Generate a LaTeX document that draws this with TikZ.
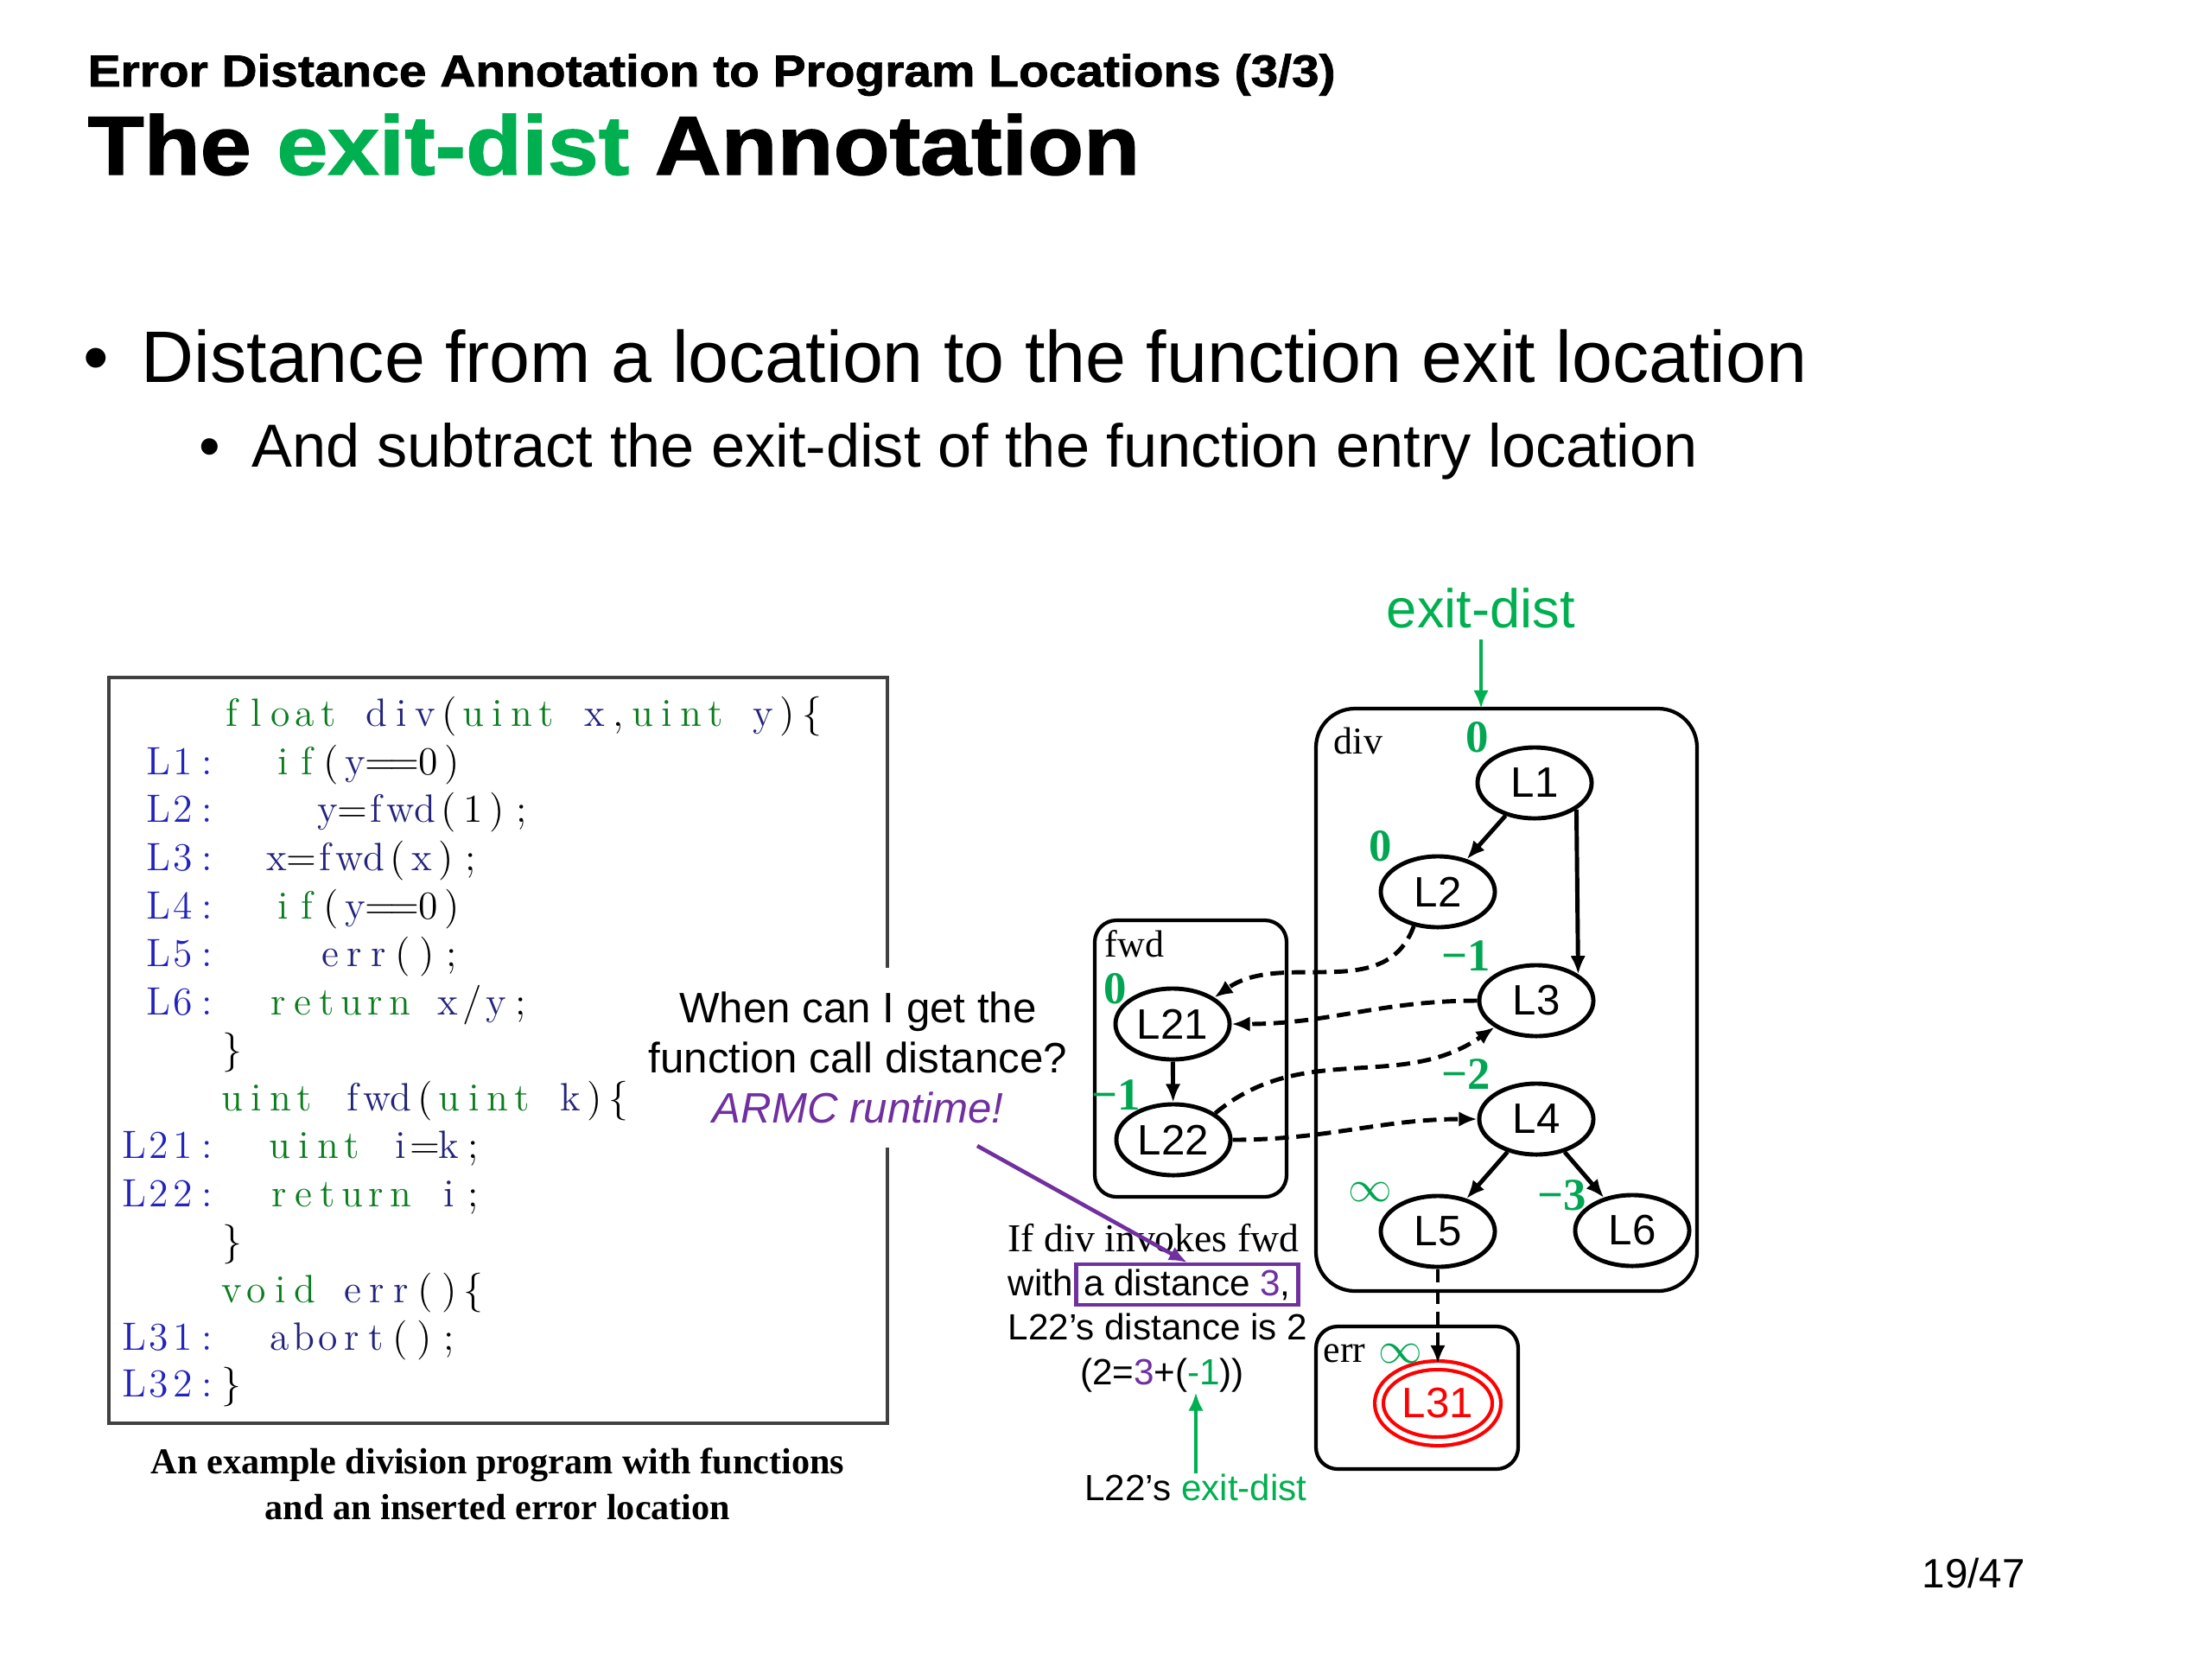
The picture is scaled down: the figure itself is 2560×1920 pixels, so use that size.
\documentclass[tikz,border=0pt]{standalone}
\usepackage{fontspec}
\usepackage{xcolor}
\usetikzlibrary{shapes.geometric, arrows.meta}
\newfontfamily\arialfont{Liberation Sans}
\newfontfamily\serifrm{Liberation Serif}
\newfontfamily\heavyfont{Liberation Sans}[BoldFeatures={FakeBold=1.5,FakeStretch=1.1}]

\definecolor{exitgreen}{RGB}{0,176,80}
\definecolor{numgreen}{RGB}{0,166,81}
\definecolor{armcpurple}{RGB}{112,48,160}
\definecolor{kwgreen}{RGB}{10,125,30}
\definecolor{idblue}{RGB}{35,35,125}
\definecolor{lblblue}{RGB}{35,35,190}

% fixed-column code letters
\newlength\cw \setlength\cw{7.95pt}
\def\endspread{}
\def\spread#1{\spreadi#1\endspread}
\def\spreadi#1{\ifx#1\endspread\else\ifcat\noexpand#1\relax#1\else\makebox[\cw]{#1}\fi\expandafter\spreadi\fi}
\newcommand\ck{\color{kwgreen}}
\newcommand\ci{\color{idblue}}
\newcommand\cp{\color{black}}
\newcommand\cl{\color{lblblue}}
\newcommand\csp{\makebox[\cw]{}}
\newcommand\lb{\makebox[\cw]{\{}}
\newcommand\rb{\makebox[\cw]{\}}}

\tikzset{>={Latex[length=6pt,width=5pt]},
    loc/.style={ellipse, draw, line width=1.4pt, minimum width=1.32cm, minimum height=0.82cm,
        inner sep=0pt, font=\arialfont\fontsize{14}{14}\selectfont},
    errloc/.style={loc, draw=red, text=red, double=white, double distance=1.6pt, line width=1.2pt,
        minimum width=1.36cm, minimum height=0.88cm},
    dist/.style={text=numgreen, font=\serifrm\bfseries\fontsize{15}{15}\selectfont, inner sep=1pt},
    inf/.style={text=numgreen, font=\fontsize{15}{15}\selectfont, inner sep=1pt},
    fnbox/.style={draw, line width=1.2pt},
    fnname/.style={font=\serifrm\fontsize{12.5}{12.5}\selectfont, inner sep=0pt},
    codeline/.style={anchor=base west, inner sep=0pt, font=\fontsize{13}{15}\selectfont},
    flow/.style={->, line width=1.4pt},
    call/.style={flow, dash pattern=on 4.5pt off 2.5pt},
    note/.style={font=\arialfont\fontsize{12}{14}\selectfont, inner sep=0pt},
}

\begin{document}
\begin{tikzpicture}[x=0.01cm, y=0.01cm]
\useasboundingbox[fill=white] (0,0) rectangle (2560,-1920);

% slide title
\node[anchor=base west, inner sep=0pt, font=\heavyfont\bfseries\fontsize{14.7}{16}\selectfont] (subtitle) at (101,-100)
    {Error Distance Annotation to Program Locations (3/3)};
\node[anchor=base west, inner sep=0pt, font=\heavyfont\bfseries\fontsize{27.5}{30}\selectfont] (title) at (101,-202)
    {The \textcolor{exitgreen}{exit-dist} Annotation};

% bullets
\node[anchor=base west, inner sep=0pt, font=\arialfont\fontsize{24}{28}\selectfont] (dot1) at (96,-442) {•};
\node[anchor=base west, inner sep=0pt, font=\arialfont\fontsize{24}{28}\selectfont] (pt1) at (163,-442)
    {Distance from a location to the function exit location};
\node[anchor=base west, inner sep=0pt, font=\arialfont\fontsize{20}{24}\selectfont] (dot2) at (230,-540) {•};
\node[anchor=base west, inner sep=0pt, font=\arialfont\fontsize{20}{24}\selectfont] (pt2) at (291,-540)
    {And subtract the exit-dist of the function entry location};

% program listing
\draw[line width=1pt, black!75] (126,-784) rectangle (1027,-1647);
\node[codeline] (hdiv) at (254,-840) {\spread{\ck float\csp\ci div\cp(\ck uint\csp\ci x\cp,\ck uint\csp\ci y\cp)\lb}};
\node[codeline] (lab1) at (169,-896) {\spread{\cl L1:}};
\node[codeline] (stm1) at (313,-896) {\spread{\ck if\cp(\ci y\cp==0)}};
\node[codeline] (lab2) at (169,-951) {\spread{\cl L2:}};
\node[codeline] (stm2) at (365,-951) {\spread{\ci y\cp=\ci fwd\cp(1);}};
\node[codeline] (lab3) at (169,-1007) {\spread{\cl L3:}};
\node[codeline] (stm3) at (306,-1007) {\spread{\ci x\cp=\ci fwd\cp(\ci x\cp);}};
\node[codeline] (lab4) at (169,-1063) {\spread{\cl L4:}};
\node[codeline] (stm4) at (313,-1063) {\spread{\ck if\cp(\ci y\cp==0)}};
\node[codeline] (lab5) at (169,-1118) {\spread{\cl L5:}};
\node[codeline] (stm5) at (368,-1118) {\spread{\ci err\cp();}};
\node[codeline] (lab6) at (169,-1174) {\spread{\cl L6:}};
\node[codeline] (stm6) at (308,-1174) {\spread{\ck return\csp\ci x\cp/\ci y\cp;}};
\node[codeline] (cdiv) at (254,-1229) {\spread{\rb}};
\node[codeline] (hfwd) at (254,-1285) {\spread{\ck uint\csp\ci fwd\cp(\ck uint\csp\ci k\cp)\lb}};
\node[codeline] (lab21) at (141,-1340) {\spread{\cl L21:}};
\node[codeline] (stm21) at (309,-1340) {\spread{\ck uint\csp\ci i\cp=\ci k\cp;}};
\node[codeline] (lab22) at (141,-1396) {\spread{\cl L22:}};
\node[codeline] (stm22) at (309,-1396) {\spread{\ck return\csp\ci i\cp;}};
\node[codeline] (cfwd) at (254,-1451) {\spread{\rb}};
\node[codeline] (herr) at (254,-1507) {\spread{\ck void\csp\ci err\cp()\lb}};
\node[codeline] (lab31) at (141,-1562) {\spread{\cl L31:}};
\node[codeline] (stm31) at (309,-1562) {\spread{\ci abort\cp();}};
\node[codeline] (lab32) at (141,-1616) {\spread{\cl L32:\cp\rb}};

\node[align=center, font=\serifrm\bfseries\fontsize{12}{15}\selectfont] (caption) at (576,-1717)
    {An example division program with functions\\and an inserted error location};

% question
\node[fill=white, align=center, inner xsep=6pt, inner ysep=8pt, font=\arialfont\fontsize{14}{16.5}\selectfont] (ask) at (993,-1224)
    {When can I get the\\function call distance?\\\textcolor{armcpurple}{\itshape ARMC runtime!}};

% function boxes
\draw[fnbox, rounded corners=0.45cm] (1523,-820) rectangle (1964,-1494);
\draw[fnbox, rounded corners=0.25cm] (1267,-1065) rectangle (1489,-1385);
\draw[fnbox, rounded corners=0.25cm] (1523,-1535) rectangle (1757,-1700);
\node[fnname] (divname) at (1572,-857) {div};
\node[fnname] (fwdname) at (1313,-1092) {fwd};
\node[fnname] (errname) at (1556,-1566) {err};

% locations
\node[loc, label={[dist]north west:0}] (L1) at (1776,-906) {L1};
\node[loc, label={[dist]north west:0}] (L2) at (1664,-1032) {L2};
\node[loc, label={[dist]north west:−1}] (L3) at (1778,-1158) {L3};
\node[loc, label={[dist]north west:−2}] (L4) at (1778,-1295) {L4};
\node[loc, label={[inf]north west:$\infty$}] (L5) at (1664,-1425) {L5};
\node[loc, label={[dist, yshift=-0.12cm]north west:−3}] (L6) at (1889,-1424) {L6};
\node[loc, label={[dist, yshift=-0.12cm]north west:0}] (L21) at (1357,-1185) {L21};
\node[loc, label={[dist, xshift=0.15cm]north west:−1}] (L22) at (1358,-1319) {L22};
\node[errloc, label={[inf, xshift=0.36cm, yshift=0.1cm]north west:$\infty$}] (L31) at (1664,-1624) {L31};

\node[text=exitgreen, font=\arialfont\fontsize{18}{18}\selectfont] (exitlbl) at (1714,-704) {exit-dist};
\coordinate (divtop) at (1714,-820);
\draw[->, exitgreen, line width=1.3pt] (exitlbl.south) -- (divtop);

% control flow
\draw[flow] (L1) -- (L2);
\draw[flow] (L1.south east) -- (L3.north east);
\draw[flow] (L4) -- (L5);
\draw[flow] (L4) -- (L6);
\draw[flow] (L21) -- (L22);
% calls and returns
\draw[call] (L2.235) to[out=-110, in=35] (L21.north east);
\draw[call] (L3.west) to[out=180, in=0] (L21.east);
\draw[call] (L22.north east) to[out=40, in=215] (L3.south west);
\draw[call] (L22.east) to[out=0, in=180] (L4.west);
\draw[call] (L5) -- (L31);

% explanation
\node[anchor=base west, inner sep=0pt, font=\serifrm\fontsize{13}{15}\selectfont] (ifdiv) at (1166,-1448) {If div invokes fwd};
\node[note, anchor=base west] (withtxt) at (1166,-1499) {with};
\node[note, anchor=base, draw=armcpurple, line width=1.2pt, inner xsep=2.5pt, inner ysep=1.5pt] (distbox) at (1374,-1499)
    {a distance \textcolor{armcpurple}{3},};
\node[note, anchor=base west] (l22dist) at (1166,-1550) {L22’s distance is 2};
\node[note, anchor=base] (formula) at (1345,-1602)
    {(2=\textcolor{armcpurple}{3}+(\textcolor{numgreen}{-1}))};
\node[note, anchor=base] (l22exit) at (1384,-1736) {L22’s \textcolor{exitgreen}{exit-dist}};
\coordinate (armctail) at (1131,-1326);
\draw[->, armcpurple, line width=1.3pt] (armctail) -- (distbox.north);
\draw[->, exitgreen, line width=1.3pt] (l22exit.north) -- (l22exit.north |- formula.south);

\node[font=\arialfont\fontsize{13.5}{14}\selectfont] (pagenum) at (2284,-1820) {19/47};
\end{tikzpicture}
\end{document}
